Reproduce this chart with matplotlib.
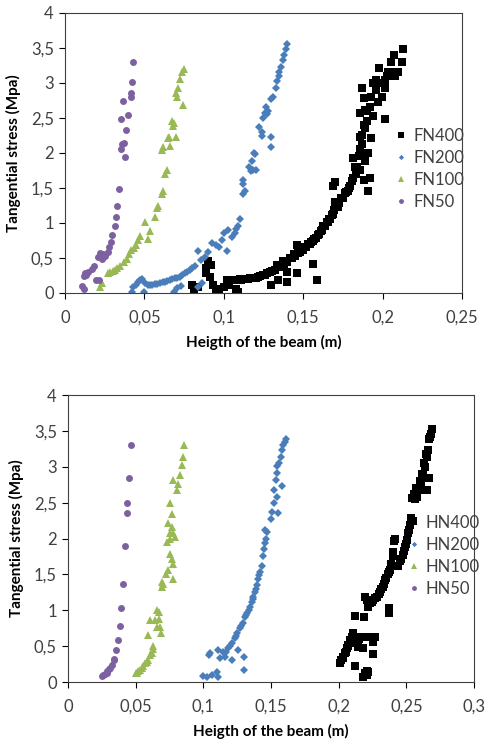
import matplotlib
matplotlib.use("Agg")
import matplotlib.pyplot as plt
from matplotlib.ticker import FuncFormatter, MultipleLocator

plt.rcParams["font.family"] = ["Lato", "DejaVu Sans"]

# ---- F series (upper chart) ----
fn50_x = [0.0430, 0.0420, 0.0418, 0.0414, 0.0365, 0.0394, 0.0351, 0.0384, 0.0372, 0.0361,
          0.0351, 0.0376, 0.0340, 0.0330, 0.0321, 0.0313, 0.0298, 0.0288, 0.0275, 0.0269,
          0.0252, 0.0238, 0.0220, 0.0210, 0.0232, 0.0185, 0.0168, 0.0147, 0.0126, 0.0135,
          0.0122, 0.0193, 0.0215, 0.0105, 0.0120]
fn50_y = [3.29, 3.01, 2.85, 2.80, 2.74, 2.54, 2.49, 2.32, 2.14, 2.12,
          2.05, 1.94, 1.49, 1.24, 1.08, 0.95, 0.83, 0.73, 0.65, 0.58,
          0.53, 0.56, 0.57, 0.51, 0.49, 0.38, 0.34, 0.30, 0.29, 0.26,
          0.24, 0.19, 0.18, 0.10, 0.05]

fn100_x = [0.0748, 0.0740, 0.0724, 0.0714, 0.0703, 0.0700, 0.0741, 0.0672, 0.0680, 0.0685,
           0.0652, 0.0697, 0.0660, 0.0647, 0.0619, 0.0614, 0.0640, 0.0630, 0.0615, 0.0610,
           0.0588, 0.0577, 0.0567, 0.0504, 0.0535, 0.0520, 0.0474, 0.0462, 0.0446, 0.0432,
           0.0415, 0.0400, 0.0388, 0.0370, 0.0346, 0.0330, 0.0315, 0.0300, 0.0282, 0.0269,
           0.0220, 0.0230]
fn100_y = [3.20, 3.16, 3.05, 2.93, 2.80, 2.86, 2.68, 2.45, 2.38, 2.42,
           2.23, 2.22, 2.10, 2.21, 2.09, 2.04, 1.76, 1.70, 1.46, 1.41,
           1.24, 1.21, 1.09, 1.02, 0.89, 0.77, 0.81, 0.75, 0.69, 0.64,
           0.61, 0.56, 0.48, 0.44, 0.38, 0.35, 0.33, 0.31, 0.30, 0.28,
           0.09, 0.14]

fn200_x = [0.1400, 0.1390, 0.1380, 0.1370, 0.1360, 0.1350, 0.1348, 0.1335, 0.1327, 0.1312,
           0.1300, 0.1266, 0.1257, 0.1270, 0.1280, 0.1250, 0.1224, 0.1243, 0.1240, 0.1295,
           0.1295, 0.1190, 0.1195, 0.1180, 0.1170, 0.1185, 0.1200, 0.1160, 0.1123, 0.1123,
           0.1134, 0.1120, 0.1100, 0.1090, 0.1080, 0.1070, 0.1050, 0.1029, 0.1000, 0.0987,
           0.1018, 0.0970, 0.0950, 0.0928, 0.0903, 0.0880, 0.0840, 0.0856, 0.0819, 0.0800,
           0.0787, 0.0770, 0.0756, 0.0740, 0.0724, 0.0705, 0.0690, 0.0675, 0.0661, 0.0645,
           0.0630, 0.0615, 0.0598, 0.0580, 0.0567, 0.0550, 0.0535, 0.0520, 0.0505, 0.0483,
           0.0470, 0.0460, 0.0445, 0.0430, 0.0420, 0.0500, 0.0686, 0.0703, 0.0730, 0.0840,
           0.0865]
fn200_y = [3.55, 3.48, 3.39, 3.32, 3.23, 3.15, 3.09, 3.02, 2.92, 2.80,
           2.77, 2.66, 2.57, 2.55, 2.60, 2.50, 2.37, 2.30, 2.24, 2.23,
           2.09, 2.00, 1.98, 1.88, 1.74, 1.75, 1.75, 1.80, 1.61, 1.55,
           1.45, 1.41, 1.06, 0.95, 0.92, 0.85, 0.80, 0.90, 0.85, 0.76,
           0.60, 0.66, 0.68, 0.71, 0.59, 0.52, 0.60, 0.47, 0.38, 0.35,
           0.33, 0.30, 0.28, 0.26, 0.23, 0.22, 0.21, 0.20, 0.19, 0.17,
           0.16, 0.15, 0.14, 0.13, 0.13, 0.12, 0.11, 0.12, 0.14, 0.20,
           0.18, 0.16, 0.12, 0.09, 0.01, 0.02, 0.01, 0.07, 0.10, 0.09,
           0.14]

fn400_x = [0.0810, 0.0840, 0.0800, 0.0903, 0.0890, 0.0888, 0.0913, 0.0934, 0.0965, 0.0970,
           0.0920, 0.0950, 0.1000, 0.1030, 0.1080,
           0.1018, 0.1050, 0.1060, 0.1090, 0.1100, 0.1130, 0.1150, 0.1165, 0.1200, 0.1230,
           0.1250, 0.1260, 0.1290, 0.1320, 0.1333, 0.1300, 0.1343, 0.1396, 0.1396, 0.1375,
           0.1417, 0.1440, 0.1460, 0.1460, 0.1470, 0.1490, 0.1510, 0.1530, 0.1550, 0.1560,
           0.1570, 0.1585, 0.1595, 0.1610, 0.1627, 0.1648, 0.1660, 0.1680, 0.1695, 0.1710,
           0.1725, 0.1740, 0.1700, 0.1763, 0.1780, 0.1690, 0.1700, 0.1795, 0.1816, 0.1880,
           0.1920, 0.1910, 0.1826, 0.1860, 0.1890, 0.1816, 0.1880, 0.1910, 0.1868, 0.1858,
           0.1925, 0.1890, 0.1900, 0.1940, 0.2015, 0.1858, 0.1890, 0.1920, 0.1880, 0.1868,
           0.1973, 0.1994, 0.2015, 0.1938, 0.1960, 0.2015, 0.1980, 0.2036, 0.2080, 0.2100,
           0.2050, 0.2070, 0.2120, 0.2130,
           0.1110, 0.1180, 0.1215, 0.1275, 0.1305, 0.1350, 0.1380, 0.1400, 0.1430, 0.1450,
           0.1480, 0.1500, 0.1520, 0.1540, 0.1560, 0.1580, 0.1600, 0.1620, 0.1640, 0.1655,
           0.1670, 0.1690, 0.1720, 0.1750, 0.1770, 0.1790, 0.1810, 0.1830, 0.1840, 0.1850,
           0.1860, 0.1870, 0.1880, 0.1900, 0.1930, 0.1960, 0.1990, 0.2030, 0.2060]
fn400_y = [0.02, 0.08, 0.11, 0.45, 0.35, 0.28, 0.23, 0.11, 0.02, 0.05,
           0.40, 0.06, 0.08, 0.12, 0.05,
           0.19, 0.19, 0.19, 0.02, 0.20, 0.20, 0.20, 0.21, 0.22, 0.24,
           0.25, 0.26, 0.30, 0.33, 0.40, 0.11, 0.19, 0.30, 0.16, 0.45,
           0.50, 0.55, 0.28, 0.69, 0.57, 0.62, 0.66, 0.70, 0.73, 0.42,
           0.77, 0.19, 0.83, 0.88, 0.95, 1.02, 1.06, 1.11, 1.18, 1.26,
           1.28, 1.35, 1.30, 1.42, 1.45, 1.52, 1.59, 1.52, 1.64, 1.61,
           1.64, 1.46, 1.80, 1.76, 1.88, 1.92, 2.00, 2.00, 2.13, 2.23,
           2.21, 2.35, 2.45, 2.52, 2.48, 2.57, 2.61, 2.66, 2.78, 2.92,
           2.73, 2.80, 2.92, 3.00, 3.04, 3.04, 3.21, 3.16, 3.10, 3.16,
           3.30, 3.40, 3.30, 3.48,
           0.19, 0.21, 0.23, 0.28, 0.32, 0.37, 0.41, 0.44, 0.50, 0.53,
           0.58, 0.62, 0.66, 0.70, 0.74, 0.79, 0.84, 0.90, 0.96, 1.01,
           1.06, 1.13, 1.22, 1.36, 1.44, 1.50, 1.60, 1.70, 1.80, 1.95,
           2.05, 2.25, 2.40, 2.60, 2.80, 2.90, 3.00, 3.10, 3.15]

# ---- H series (lower chart) ----
hn50_x = [0.0466, 0.0453, 0.0436, 0.0434, 0.0424, 0.0409, 0.0394, 0.0382, 0.0370, 0.0352,
          0.0340, 0.0337, 0.0323, 0.0310, 0.0300, 0.0291, 0.0285, 0.0270, 0.0261, 0.0249]
hn50_y = [3.30, 2.84, 2.50, 2.35, 1.89, 1.36, 1.03, 0.78, 0.58, 0.44,
          0.32, 0.30, 0.24, 0.20, 0.18, 0.15, 0.12, 0.11, 0.10, 0.08]

hn100_x = [0.0860, 0.0852, 0.0840, 0.0828, 0.0779, 0.0815, 0.0803, 0.0754, 0.0766, 0.0736,
           0.0766, 0.0779, 0.0754, 0.0791, 0.0757, 0.0735, 0.0754, 0.0766, 0.0779, 0.0742,
           0.0724, 0.0779, 0.0692, 0.0697, 0.0705, 0.0655, 0.0675, 0.0643, 0.0673, 0.0606,
           0.0655, 0.0680, 0.0685, 0.0589, 0.0626, 0.0631, 0.0618, 0.0606, 0.0594, 0.0584,
           0.0570, 0.0557, 0.0545, 0.0532, 0.0520, 0.0510, 0.0500]
hn100_y = [3.31, 3.13, 3.02, 2.88, 2.82, 2.76, 2.67, 2.49, 2.34, 2.22,
           2.16, 2.07, 2.07, 2.02, 2.00, 1.95, 1.79, 1.71, 1.64, 1.56,
           1.51, 1.43, 1.40, 1.32, 1.36, 1.01, 0.97, 0.87, 0.88, 0.87,
           0.77, 0.76, 0.68, 0.65, 0.50, 0.46, 0.40, 0.37, 0.31, 0.28,
           0.26, 0.22, 0.19, 0.17, 0.15, 0.13, 0.12]

hn200_x = [0.1611, 0.1600, 0.1591, 0.1585, 0.1572, 0.1562, 0.1542, 0.1547, 0.1584, 0.1537,
           0.1525, 0.1542, 0.1522, 0.1510, 0.1554, 0.1498, 0.1456, 0.1473, 0.1463, 0.1456,
           0.1439, 0.1431, 0.1419, 0.1406, 0.1395, 0.1382, 0.1370, 0.1358, 0.1345, 0.1325,
           0.1308, 0.1291, 0.1271, 0.1251, 0.1234, 0.1210, 0.1185, 0.1259, 0.1300, 0.1210,
           0.1148, 0.1110, 0.1123, 0.1160, 0.1050, 0.1040, 0.1300, 0.1110, 0.1099, 0.1062,
           0.1025, 0.1000,
           0.1447, 0.1412, 0.1388, 0.1364, 0.1335, 0.1316, 0.1281, 0.1242, 0.1198, 0.1170]
hn200_y = [3.39, 3.35, 3.30, 3.23, 3.14, 3.05, 3.01, 2.92, 2.73, 2.81,
           2.67, 2.58, 2.49, 2.37, 2.36, 2.27, 2.12, 2.09, 2.00, 1.94,
           1.75, 1.61, 1.54, 1.44, 1.35, 1.26, 1.19, 1.12, 1.05, 0.96,
           0.91, 0.82, 0.75, 0.68, 0.61, 0.54, 0.47, 0.44, 0.35, 0.30,
           0.42, 0.45, 0.33, 0.35, 0.40, 0.38, 0.17, 0.07, 0.14, 0.10,
           0.07, 0.08,
           1.85, 1.49, 1.30, 1.16, 1.00, 0.93, 0.78, 0.64, 0.50, 0.42]

hn400_x = [0.2693, 0.2683, 0.2670, 0.2663, 0.2651, 0.2638, 0.2621, 0.2666, 0.2651, 0.2609,
           0.2594, 0.2582, 0.2565, 0.2540, 0.2535, 0.2547, 0.2528, 0.2515, 0.2503, 0.2490,
           0.2474, 0.2454, 0.2441, 0.2417, 0.2412, 0.2404, 0.2398, 0.2387, 0.2380, 0.2363,
           0.2343, 0.2326, 0.2306, 0.2282, 0.2257, 0.2232, 0.2220, 0.2195, 0.2207, 0.2375,
           0.2375, 0.2121, 0.2190, 0.2109, 0.2096, 0.2084, 0.2071, 0.2060, 0.2047, 0.2035,
           0.2018, 0.2011, 0.2121, 0.2146, 0.2170, 0.2195, 0.2232, 0.2269, 0.2257, 0.2178,
           0.2140, 0.2257, 0.2121, 0.2207, 0.2195, 0.2183, 0.2220,
           0.2030, 0.2052, 0.2068, 0.2082, 0.2100, 0.2150, 0.2245, 0.2270, 0.2295, 0.2315,
           0.2335, 0.2352, 0.2370, 0.2460, 0.2480, 0.2495, 0.2520, 0.2555, 0.2572, 0.2600,
           0.2615, 0.2630, 0.2645, 0.2675, 0.2210]
hn400_y = [3.52, 3.46, 3.39, 3.23, 3.13, 3.00, 2.88, 2.84, 2.67, 2.77,
           2.67, 2.58, 2.55, 2.56, 2.28, 2.25, 2.19, 2.07, 1.98, 1.88,
           1.77, 1.68, 1.61, 2.00, 1.96, 1.81, 1.75, 1.65, 1.56, 1.50,
           1.42, 1.33, 1.26, 1.19, 1.14, 1.10, 1.05, 1.19, 1.14, 1.03,
           0.96, 0.92, 0.91, 0.68, 0.63, 0.56, 0.52, 0.47, 0.40, 0.35,
           0.31, 0.27, 0.62, 0.63, 0.63, 0.63, 0.63, 0.63, 0.56, 0.47,
           0.49, 0.39, 0.22, 0.15, 0.12, 0.07, 0.14,
           0.33, 0.42, 0.50, 0.58, 0.55, 0.60, 1.12, 1.17, 1.23, 1.30,
           1.37, 1.45, 1.53, 1.71, 1.83, 1.93, 2.12, 2.62, 2.70, 2.80,
           2.90, 3.05, 3.18, 3.42, 0.10]

BLACK = "#000000"
BLUE = "#4a7ebb"
GREEN = "#98b954"
PURPLE = "#7d60a0"


def comma_fmt(v, pos):
    s = f"{v:.2f}".rstrip("0").rstrip(".")
    return s.replace(".", ",")


def style_axes(ax, xmax):
    ax.set_xlim(0, xmax)
    ax.set_ylim(0, 4)
    ax.xaxis.set_major_locator(MultipleLocator(0.05))
    ax.yaxis.set_major_locator(MultipleLocator(0.5))
    ax.xaxis.set_major_formatter(FuncFormatter(comma_fmt))
    ax.yaxis.set_major_formatter(FuncFormatter(comma_fmt))
    ax.tick_params(direction="out", length=4, width=0.8, labelsize=12,
                   colors="#000000", labelcolor="#404040")
    ax.tick_params(axis="x", pad=8)
    ax.tick_params(axis="y", pad=4)
    for sp in ax.spines.values():
        sp.set_linewidth(0.8)
        sp.set_color("#404040")
    ax.set_ylabel("Tangential stress (Mpa)", fontsize=11, fontweight="bold", labelpad=7)
    ax.set_xlabel("Heigth of the beam (m)", fontsize=11, fontweight="bold", labelpad=7)


fig = plt.figure(figsize=(4.86, 7.47), dpi=100)
ax1 = fig.add_axes([0.1337, 0.6078, 0.8169, 0.3752])
ax2 = fig.add_axes([0.1399, 0.0870, 0.8354, 0.3842])

ax1.plot(fn400_x, fn400_y, "s", color=BLACK, ms=5.5, mew=0, label="FN400")
ax1.plot(fn200_x, fn200_y, "D", color=BLUE, ms=3.8, mew=0, label="FN200")
ax1.plot(fn100_x, fn100_y, "^", color=GREEN, ms=5.5, mew=0, label="FN100")
ax1.plot(fn50_x, fn50_y, "o", color=PURPLE, ms=5, mew=0, label="FN50")
style_axes(ax1, 0.25)
ax1.legend(loc="center left", bbox_to_anchor=(0.835, 0.443), frameon=False,
           fontsize=12, handlelength=0.6, handletextpad=0.4, labelspacing=0.35,
           borderpad=0, borderaxespad=0, markerscale=0.7, labelcolor="#404040")

ax2.plot(hn400_x, hn400_y, "s", color=BLACK, ms=5.5, mew=0, label="HN400")
ax2.plot(hn200_x, hn200_y, "D", color=BLUE, ms=3.8, mew=0, label="HN200")
ax2.plot(hn100_x, hn100_y, "^", color=GREEN, ms=5.5, mew=0, label="HN100")
ax2.plot(hn50_x, hn50_y, "o", color=PURPLE, ms=5, mew=0, label="HN50")
style_axes(ax2, 0.3)
ax2.legend(loc="center left", bbox_to_anchor=(0.84, 0.439), frameon=False,
           fontsize=12, handlelength=0.6, handletextpad=0.4, labelspacing=0.35,
           borderpad=0, borderaxespad=0, markerscale=0.7, labelcolor="#404040")

fig.savefig("out.png", dpi=100)
